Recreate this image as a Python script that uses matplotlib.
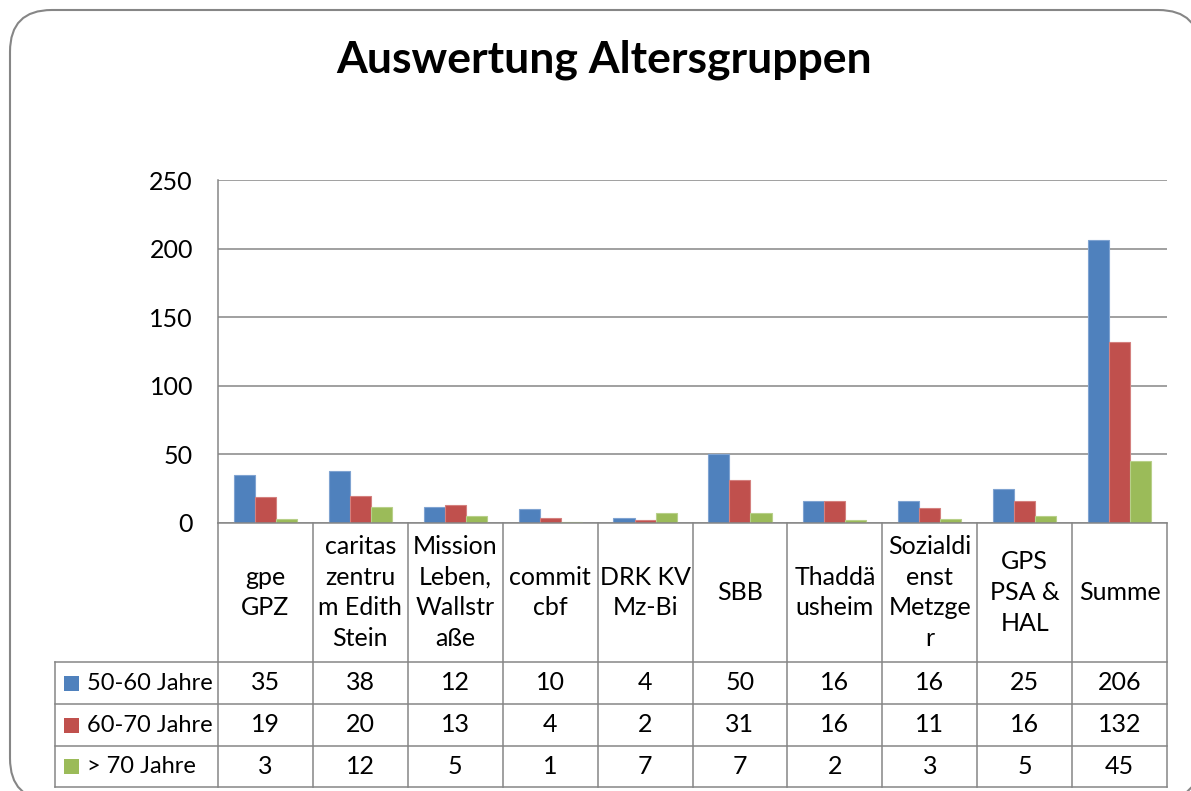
import matplotlib
matplotlib.use("Agg")
import matplotlib.pyplot as plt
from matplotlib.patches import FancyBboxPatch, Rectangle

plt.rcParams['font.family'] = ['Lato', 'DejaVu Sans']

# data
categories = ["gpe\nGPZ", "caritas\nzentru\nm Edith\nStein", "Mission\nLeben,\nWallstr\naße",
              "commit\ncbf", "DRK KV\nMz-Bi", "SBB", "Thaddä\nusheim",
              "Sozialdi\nenst\nMetzge\nr", "GPS\nPSA &\nHAL", "Summe"]
series_names = ["50-60 Jahre", "60-70 Jahre", "> 70 Jahre"]
age_50_60 = [35, 38, 12, 10, 4, 50, 16, 16, 25, 206]
age_60_70 = [19, 20, 13, 4, 2, 31, 16, 11, 16, 132]
age_70_plus = [3, 12, 5, 1, 7, 7, 2, 3, 5, 45]
colors = ["#4F81BD", "#C0504D", "#9BBB59"]
edges = ["#7FA3D1", "#D4807E", "#B8D08A"]
yticks = [0, 50, 100, 150, 200, 250]

series = [age_50_60, age_60_70, age_70_plus]
grid_col = "#868686"
W, H = 1191, 791

fig = plt.figure(figsize=(W / 100, H / 100), dpi=100)

def fx(px):
    return px / W

def fy(py):
    return 1 - py / H

# rounded chart frame (partly off-canvas like the screenshot)
frame = FancyBboxPatch((fx(10), fy(800)), fx(1200) - fx(10), fy(10) - fy(800),
                       boxstyle="round,pad=0,rounding_size=0.035",
                       transform=fig.transFigure, facecolor="white",
                       edgecolor=grid_col, linewidth=1.5, clip_on=False,
                       mutation_aspect=W / H, zorder=-5)
fig.patches.append(frame)

fig.text(fx(604), fy(60), "Auswertung Altersgruppen", ha="center", va="center",
         fontsize=32, fontweight="bold")

# bar area
left, right, top, bottom = 218, 1167, 180, 523
ax = fig.add_axes([fx(left), fy(bottom), fx(right) - fx(left), fy(top) - fy(bottom)])
ax.set_facecolor("none")
n = len(categories)
bw = 0.222
for k, vals in enumerate(series):
    xs = [i + 0.5 + (k - 1) * bw for i in range(n)]
    ax.bar(xs, vals, width=bw, color=colors[k], edgecolor=edges[k], linewidth=0.8, zorder=3)
ax.set_xlim(0, n)
ax.set_ylim(0, 250)
ax.set_yticks(yticks)
ax.set_yticklabels([str(t) for t in yticks], fontsize=18)
ax.tick_params(axis="y", length=0, pad=18)
ax.set_xticks([])
ax.yaxis.grid(True, color=grid_col, linewidth=1.1)
ax.set_axisbelow(True)
for s in ["top", "right", "bottom"]:
    ax.spines[s].set_visible(False)
ax.spines["left"].set_color(grid_col)
ax.spines["left"].set_linewidth(1.1)

# data table below the bars
tleft, tbottom = 55, 787
cat_w = (right - left) / n
leg_w = (left - tleft) / cat_w
tax = fig.add_axes([fx(tleft), fy(tbottom), fx(right) - fx(tleft), fy(bottom) - fy(tbottom)])
tax.set_xlim(-leg_w, n)
tax.set_ylim(tbottom - bottom, 0)
tax.axis("off")

row_edges = [0, 139, 181, 223, 264]
lw = 1.1
# horizontal lines
tax.plot([0, n], [0, 0], color=grid_col, lw=lw, clip_on=False)
for yb in row_edges[1:]:
    tax.plot([-leg_w, n], [yb, yb], color=grid_col, lw=lw, clip_on=False)
# vertical lines
for i in range(n + 1):
    tax.plot([i, i], [0, row_edges[-1]], color=grid_col, lw=lw, clip_on=False)
tax.plot([-leg_w, -leg_w], [row_edges[1], row_edges[-1]], color=grid_col, lw=lw, clip_on=False)

for i, c in enumerate(categories):
    tax.text(i + 0.5, row_edges[1] / 2, c, ha="center", va="center", fontsize=18,
             linespacing=1.42)

sq = 15 / cat_w
for k, vals in enumerate(series):
    yc = (row_edges[k + 1] + row_edges[k + 2]) / 2
    tax.add_patch(Rectangle((-leg_w + 9 / cat_w, yc - 7.5), sq, 15,
                            facecolor=colors[k], edgecolor="none", clip_on=False))
    tax.text(-leg_w + 32 / cat_w, yc, series_names[k], ha="left", va="center", fontsize=17)
    for i, v in enumerate(vals):
        tax.text(i + 0.5, yc, str(v), ha="center", va="center", fontsize=18)

fig.savefig("out.png", dpi=100)
